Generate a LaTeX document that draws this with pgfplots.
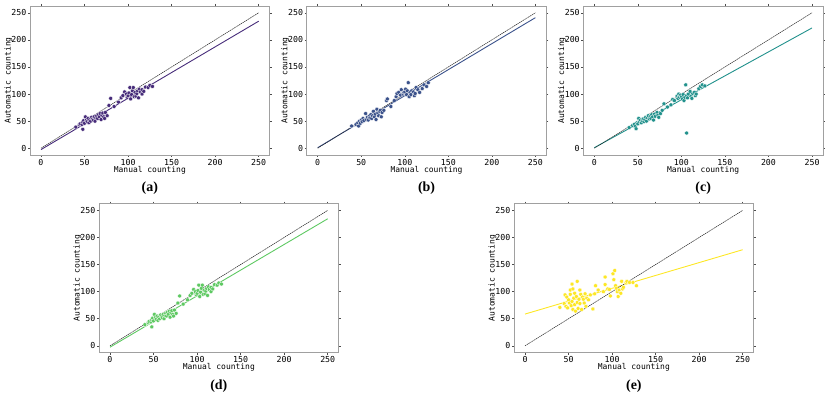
\documentclass[border=0pt]{standalone}
\usepackage{pgfplots}
\usepackage{pgfplotstable}
\pgfplotsset{compat=1.18}
\usepackage{fontspec}
\setmainfont{Liberation Serif}
\newfontfamily\mono{DejaVu Sans Mono}

\definecolor{cA}{HTML}{472C7A}
\definecolor{cB}{HTML}{3B528B}
\definecolor{cC}{HTML}{21918C}
\definecolor{cD}{HTML}{5EC962}
\definecolor{cE}{HTML}{FDE725}
\definecolor{frame}{HTML}{A0A0A0}

\pgfplotstableread{
x y
40 39
44 43
45 45
47 44
48 35
48 48
49 51
50 46
51 58
52 52
53 49
54 55
55 47
56 53
57 50
58 57
59 54
60 52
61 58
62 50
63 56
64 60
65 55
66 62
67 58
68 64
69 53
70 61
71 65
72 58
73 55
74 66
76 60
78 79
80 92
84 77
89 85
92 93
94 97
96 104
98 100
99 94
100 97
101 102
102 112
103 91
104 99
105 106
106 112
107 95
108 103
109 96
110 101
111 106
112 93
113 109
114 104
116 108
116 100
118 105
120 113
123 112
125 116
128 114
}\dataA

\pgfplotstableread{
x y
39 41
44 44
46 47
47 41
48 50
49 46
50 52
51 49
52 55
53 51
55 64
56 53
57 57
58 52
59 59
60 56
61 62
62 55
63 60
64 68
65 58
66 63
67 53
68 72
69 65
70 60
71 68
72 70
73 58
74 66
76 70
79 88
80 91
84 77
88 88
90 95
91 101
93 103
95 98
96 108
98 100
99 103
100 104
101 109
102 99
103 106
104 121
105 95
106 103
107 99
108 106
110 104
111 97
112 101
113 112
115 108
117 103
120 110
122 117
125 114
127 121
}\dataB

\pgfplotstableread{
x y
40 38
44 42
46 44
47 40
48 36
49 47
50 45
51 55
52 49
53 52
54 47
55 51
56 54
57 49
58 53
59 57
60 50
61 56
62 60
63 54
64 58
65 55
66 62
67 58
68 52
69 63
70 59
72 66
73 61
74 57
76 64
78 70
80 82
84 76
88 80
90 90
92 88
95 96
96 92
97 100
98 94
99 98
100 95
101 91
102 99
103 88
104 94
105 117
106 28
106 97
107 93
108 100
110 105
111 96
112 92
113 101
115 103
116 97
117 100
120 110
122 114
124 117
127 115
}\dataC

\pgfplotstableread{
x y
40 71
45 78
46 94
47 73
48 90
49 70
50 85
51 79
52 103
52 95
53 74
54 114
54 82
55 67
55 105
56 88
57 76
57 97
58 64
59 91
60 119
60 80
61 69
62 86
63 103
63 78
64 95
65 67
66 90
67 86
68 79
69 96
70 73
71 88
73 85
75 94
78 68
80 96
81 111
84 103
90 100
92 127
92 113
95 105
97 104
98 92
101 133
102 122
103 139
104 111
105 106
106 100
107 91
108 103
110 97
111 119
112 105
113 108
116 116
117 119
120 117
124 117
128 111
}\dataE

\pgfplotsset{
  panel/.style={
    anchor=south west,
    scale only axis,
    width=239.5bp, height=149bp,
    xmin=-12.5, xmax=262.5, ymin=-12.5, ymax=262.5,
    xtick={0,50,...,250}, ytick={0,50,...,250},
    axis line style={frame, line width=0.8bp},
    tick style={black!70, line width=0.5bp},
    tick align=outside,
    major tick length=2bp,
    /pgf/number format/assume math mode=true,
    tick label style={font=\mono\fontsize{8.3}{9}\selectfont},
    xticklabel style={anchor=north, inner sep=0pt, yshift=-2bp},
    yticklabel style={anchor=east, inner sep=0pt, xshift=-1.5bp},
    xlabel={Manual counting},
    ylabel={Automatic counting},
    every axis x label/.style={at={(axis description cs:0.5,-0.115)}, anchor=base, font=\mono\fontsize{8}{9}\selectfont},
    every axis y label/.style={at={(axis description cs:-0.09,0.5)}, rotate=90, anchor=center, font=\mono\fontsize{8}{9}\selectfont},
    clip=false,
  },
  pts/.style={only marks, mark=*, mark size=2bp, mark options={draw=white, line width=0.3bp, fill=#1}},
  fit/.style={#1, line width=0.9bp, no marks},
  ident/.style={black!85, line width=0.5bp, dash pattern=on 1.5bp off 0.6bp, no marks},
}

\newcommand{\plabel}[1]{\node[font=\bfseries\fontsize{14}{16}\selectfont, anchor=center] at (axis description cs:0.5,-0.222) {(#1)};}

\begin{document}
\begin{tikzpicture}
\path[use as bounding box] (0bp,0bp) rectangle (830bp,397bp);

% (a)
\begin{axis}[panel, at={(30.1bp,242bp)}]
\addplot[pts=cA] table {\dataA};
\addplot[fit=cA] coordinates {(0,-2.5) (250,234.5)};
\addplot[ident] coordinates {(0,0) (250,250)};
\plabel{a}
\end{axis}

% (b)
\begin{axis}[panel, at={(306.8bp,242bp)}]
\addplot[pts=cB] table {\dataB};
\addplot[fit=cB] coordinates {(0,1) (250,241)};
\addplot[ident] coordinates {(0,0) (250,250)};
\plabel{b}
\end{axis}

% (c)
\begin{axis}[panel, at={(583.4bp,242bp)}]
\addplot[pts=cC] table {\dataC};
\addplot[fit=cC] coordinates {(0,1) (250,222)};
\addplot[ident] coordinates {(0,0) (250,250)};
\plabel{c}
\end{axis}

% (d)
\begin{axis}[panel, at={(99.1bp,44.4bp)}]
\addplot[pts=cD] table {\dataA};
\addplot[fit=cD] coordinates {(0,-2.5) (250,234.5)};
\addplot[ident] coordinates {(0,0) (250,250)};
\plabel{d}
\end{axis}

% (e)
\begin{axis}[panel, at={(514.1bp,44.4bp)}]
\addplot[pts=cE] table {\dataE};
\addplot[fit=cE] coordinates {(0,58.6) (250,177.4)};
\addplot[ident] coordinates {(0,0) (250,250)};
\plabel{e}
\end{axis}
\end{tikzpicture}
\end{document}
